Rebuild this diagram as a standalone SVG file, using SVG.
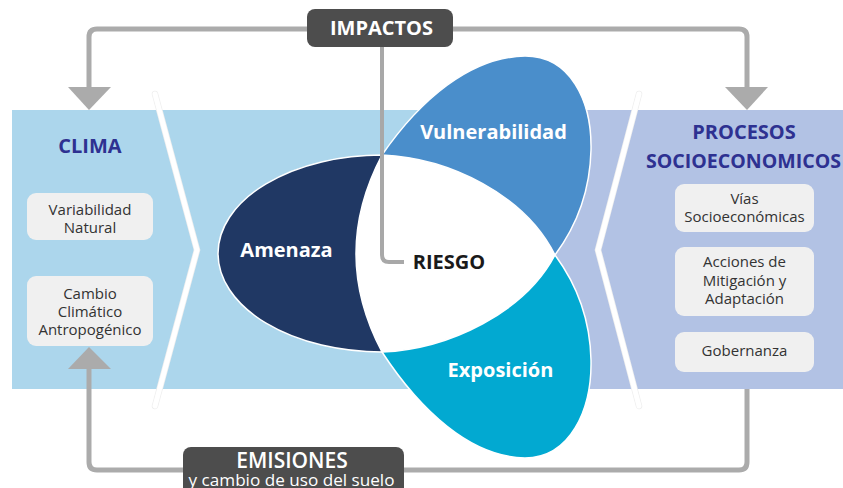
<svg xmlns="http://www.w3.org/2000/svg" width="843" height="488" viewBox="0 0 843 488">
  <defs>
    <style>
      .band-l { fill: #acd6ec; }
      .band-r { fill: #b2c2e4; }
      .chev-sh { fill: none; stroke: #eeeeee; stroke-width: 6.5; stroke-linecap: round; stroke-linejoin: miter; }
      .chev { fill: none; stroke: #ffffff; stroke-width: 5; stroke-linecap: round; stroke-linejoin: miter; }
      .petal { stroke: #ffffff; stroke-width: 1.5; }
      .conn { fill: none; stroke: #ababab; stroke-width: 5; }
      .conn-thin { fill: none; stroke: #a8a8a8; stroke-width: 4; }
      .head { fill: #ababab; }
      .dark { fill: #4d4d4d; }
      .box { fill: #f0f0f0; }
      .t { font-family: "Open Sans", "Noto Sans", "Liberation Sans", sans-serif; text-anchor: middle; }
      .title { font-size: 20px; font-weight: bold; fill: #2e3191; }
      .petal-t { font-size: 20px; font-weight: bold; fill: #ffffff; }
      .node-t { font-size: 15px; fill: #333333; }
      .lab { fill: #ffffff; }
    </style>
  </defs>

  <rect width="843" height="488" fill="#ffffff"/>

  <g id="background">
    <rect class="band-l" x="12" y="110" width="548" height="279"/>
    <rect class="band-r" x="556" y="110" width="287" height="279"/>
    <path class="chev-sh" d="M155,94 L197,250 L155,406"/>
    <path class="chev" d="M155,94 L197,250 L155,406"/>
    <path class="chev-sh" d="M639,94 L598,250 L639,406"/>
    <path class="chev" d="M639,94 L598,250 L639,406"/>
  </g>

  <g id="amenaza">
    <path class="petal" fill="#203864" d="M382,155 A164,98.5 0 0 0 382,352 Q330,253.5 382,155 Z"/>
    <text class="t petal-t" x="286.5" y="257">Amenaza</text>
  </g>

  <g id="vulnerabilidad">
    <path class="petal" fill="#4a8ecb" d="M382,155 C420,100 470,57 525,56 C570,56 592,100 591,150 C590,195 575,228 555,255 C525,195 450,158 382,155 Z"/>
    <text class="t petal-t" x="493.5" y="139">Vulnerabilidad</text>
  </g>

  <g id="exposicion">
    <path class="petal" fill="#02a9d1" d="M382,352 C420,410 470,457 525,458 C570,458 592,410 591,360 C590,315 575,282 555,255 C525,312 450,349 382,352 Z"/>
    <text class="t petal-t" x="500.5" y="377">Exposición</text>
  </g>

  <g id="riesgo">
    <path fill="#ffffff" d="M382,155 C450,158 525,195 555,255 C525,312 450,349 382,352 Q330,253.5 382,155 Z"/>
  </g>

  <g id="connectors">
    <path class="conn" d="M307,29 H97 Q89,29 89,37 V88"/>
    <polygon class="head" points="68,87 111,87 89,110"/>
    <path class="conn" d="M453,29 H739 Q747,29 747,37 V88"/>
    <polygon class="head" points="725,87 768,87 747,110"/>
    <path class="conn" d="M183,470 H97 Q89,470 89,462 V368"/>
    <polygon class="head" points="68,369 111,369 89,347"/>
    <path class="conn" d="M404,470 H739 Q747,470 747,462 V389"/>
    <path class="conn-thin" d="M382,47 V255 Q382,262 389,262 H404"/>
  </g>

  <text class="t" x="449" y="269" font-size="20" font-weight="bold" fill="#1a1a1a">RIESGO</text>

  <g id="impactos">
    <rect class="dark" x="307" y="9" width="146" height="38" rx="8"/>
    <text class="t lab" x="381.5" y="35" font-size="20" font-weight="bold">IMPACTOS</text>
  </g>

  <g id="emisiones">
    <rect class="dark" x="183" y="447" width="221" height="52" rx="8"/>
    <text class="t lab" x="292" y="468" font-size="21" font-weight="600">EMISIONES</text>
    <text class="t lab" x="291.5" y="486" font-size="17" textLength="206" lengthAdjust="spacingAndGlyphs">y cambio de uso del suelo</text>
  </g>

  <g id="clima">
    <text class="t title" x="90" y="153">CLIMA</text>
  </g>

  <g id="variabilidad-natural">
    <rect class="box" x="27" y="193" width="126" height="47" rx="9"/>
    <text class="t node-t" x="90" y="215">Variabilidad</text>
    <text class="t node-t" x="90" y="233">Natural</text>
  </g>

  <g id="cambio-climatico">
    <rect class="box" x="27" y="276" width="126" height="70" rx="9"/>
    <text class="t node-t" x="90" y="299">Cambio</text>
    <text class="t node-t" x="90" y="317">Climático</text>
    <text class="t node-t" x="90" y="335">Antropogénico</text>
  </g>

  <g id="procesos">
    <text class="t title" x="744" y="139">PROCESOS</text>
    <text class="t title" x="743.5" y="168" textLength="195" lengthAdjust="spacingAndGlyphs">SOCIOECONOMICOS</text>
  </g>

  <g id="vias">
    <rect class="box" x="675" y="184" width="139" height="48" rx="9"/>
    <text class="t node-t" x="744.5" y="204">Vías</text>
    <text class="t node-t" x="744.5" y="222">Socioeconómicas</text>
  </g>

  <g id="acciones">
    <rect class="box" x="675" y="247" width="139" height="69" rx="9"/>
    <text class="t node-t" x="744.5" y="267">Acciones de</text>
    <text class="t node-t" x="744.5" y="286">Mitigación y</text>
    <text class="t node-t" x="744.5" y="304">Adaptación</text>
  </g>

  <g id="gobernanza">
    <rect class="box" x="675" y="332" width="139" height="40" rx="9"/>
    <text class="t node-t" x="744.5" y="356">Gobernanza</text>
  </g>
</svg>
